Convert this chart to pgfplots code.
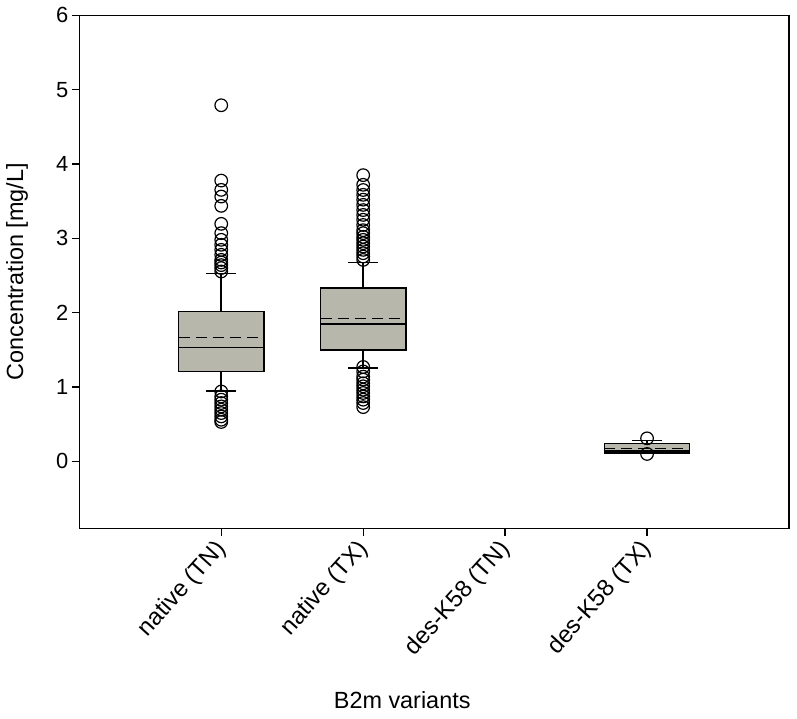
\documentclass[border=0pt]{standalone}
\usepackage{pgfplots}
\pgfplotsset{compat=1.18}
\usepgfplotslibrary{statistics}
\usepackage{fontspec}
\setmainfont{Liberation Sans}
\definecolor{boxgray}{RGB}{183,183,172}
\begin{document}
\begin{tikzpicture}
\begin{axis}[
  name=ax,
  scale only axis,
  width=709.7bp, height=513bp,
  xmin=0, xmax=5,
  ymin=-0.9, ymax=6,
  xtick={1,2,3,4},
  xticklabels={native (TN), native (TX), des-K58 (TN), des-K58 (TX)},
  ytick={0,1,2,3,4,5,6},
  tick align=outside,
  tick pos=left,
  major tick length=7.5bp,
  axis line style={line width=1.5bp},
  every tick/.style={black, line width=1.3bp},
  /pgf/number format/assume math mode=true,
  yticklabel style={font=\fontsize{22}{26}\selectfont},
  xticklabel style={font=\fontsize{24}{28}\selectfont, xshift=3bp, yshift=-7bp, rotate=48, anchor=east},
  label style={font=\fontsize{23.5}{28}\selectfont},
  xlabel={B2m variants},
  xlabel style={at={(axis description cs:0.455,-0.3347)}, anchor=center},
  ylabel={Concentration [mg/L]},
  ylabel style={at={(axis description cs:-0.0878,0.5)}, anchor=center},
  boxplot/draw direction=y,
  boxplot/box extend=0.6,
  boxplot/every box/.style={fill=boxgray},
  boxplot/draw/average/.code={%
    \draw[dash pattern=on 11bp off 6bp]
      (boxplot box cs:\pgfplotsboxplotvalue{average},0) --
      (boxplot box cs:\pgfplotsboxplotvalue{average},1);},
  boxplot/draw/lower whisker/.code={%
    \draw (boxplot box cs:\pgfplotsboxplotvalue{lower quartile},0.5) --
      (boxplot box cs:\pgfplotsboxplotvalue{lower whisker},0.5);
    \draw (boxplot box cs:\pgfplotsboxplotvalue{lower whisker},0.325) --
      (boxplot box cs:\pgfplotsboxplotvalue{lower whisker},0.675);},
  boxplot/draw/upper whisker/.code={%
    \draw (boxplot box cs:\pgfplotsboxplotvalue{upper quartile},0.5) --
      (boxplot box cs:\pgfplotsboxplotvalue{upper whisker},0.5);
    \draw (boxplot box cs:\pgfplotsboxplotvalue{upper whisker},0.325) --
      (boxplot box cs:\pgfplotsboxplotvalue{upper whisker},0.675);},
]
% native (TN)
\addplot[black, line width=1.5bp, mark=o, mark size=6.3bp,
  mark options={solid, line width=1.2bp, fill=none},
  boxplot prepared={draw position=1,
    lower whisker=0.95, lower quartile=1.21, median=1.53,
    average=1.667, upper quartile=2.016, upper whisker=2.53}]
  table[row sep=\\, y index=0, header=false] {
  4.79\\ 3.777\\ 3.652\\ 3.562\\ 3.437\\ 3.195\\ 3.07\\ 2.98\\ 2.913\\ 2.845\\
  2.778\\ 2.71\\ 2.675\\ 2.64\\ 2.6\\ 2.554\\
  0.94\\ 0.874\\ 0.83\\ 0.785\\ 0.74\\ 0.695\\ 0.65\\ 0.605\\ 0.56\\ 0.53\\
  };
% native (TX)
\addplot[black, line width=1.5bp, mark=o, mark size=6.3bp,
  mark options={solid, line width=1.2bp, fill=none},
  boxplot prepared={draw position=2,
    lower whisker=1.255, lower quartile=1.50, median=1.85,
    average=1.92, upper quartile=2.33, upper whisker=2.675}]
  table[row sep=\\, y index=0, header=false] {
  3.85\\ 3.72\\ 3.65\\ 3.585\\ 3.52\\ 3.45\\ 3.38\\ 3.315\\ 3.25\\ 3.18\\ 3.11\\
  3.07\\ 3.02\\ 2.98\\ 2.935\\ 2.89\\ 2.845\\ 2.8\\ 2.755\\ 2.71\\
  1.27\\ 1.21\\ 1.14\\ 1.10\\ 1.05\\ 1.01\\ 0.964\\ 0.92\\ 0.874\\ 0.83\\ 0.785\\ 0.73\\
  };
% des-K58 (TX)
\addplot[black, line width=1.5bp, mark=o, mark size=6.3bp,
  mark options={solid, line width=1.2bp, fill=none},
  boxplot prepared={draw position=4,
    lower whisker=0.11, lower quartile=0.115, median=0.14,
    average=0.175, upper quartile=0.238, upper whisker=0.28}]
  table[row sep=\\, y index=0, header=false] {
  0.31\\ 0.10\\
  };
\end{axis}
\pgfresetboundingbox
\path ([xshift=-79.3bp,yshift=-190.7bp]ax.south west) rectangle ([xshift=8bp,yshift=15.3bp]ax.north east);
\end{tikzpicture}
\end{document}
